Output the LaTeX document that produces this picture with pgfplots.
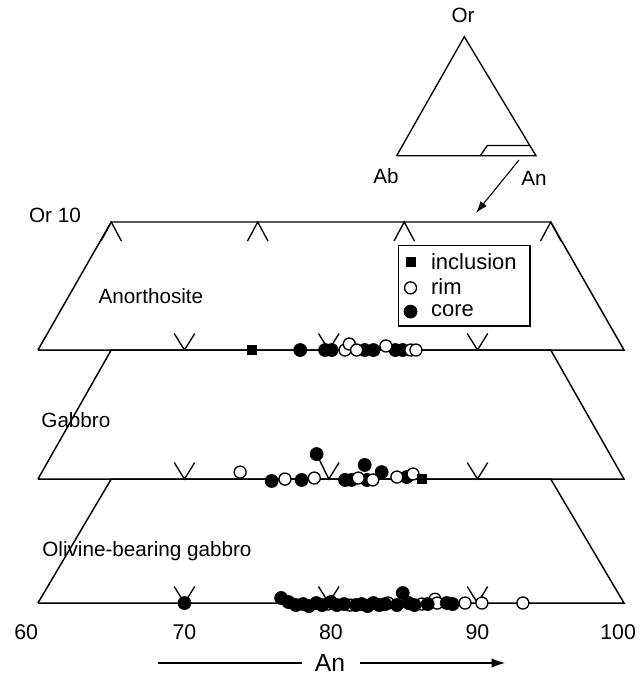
\documentclass[border=0pt]{standalone}
\usepackage{fontspec}
\setmainfont{Liberation Sans}
\usepackage{pgfplots}
\pgfplotsset{compat=1.18}
\usetikzlibrary{arrows.meta}

\begin{document}
\begin{tikzpicture}
\begin{axis}[
  x=10.9875pt, y=95.25pt,
  xmin=57.41, xmax=101.30, ymin=-0.598, ymax=4.748,
  hide axis, clip=false,
  legend style={at={(axis cs:84.57,2.819)}, anchor=north west,
    draw=black, line width=0.9pt,
    font=\fontsize{16.5}{18}\selectfont,
    row sep=1.9pt, inner xsep=2pt, inner ysep=3.6pt},
  legend cell align=left,
  legend image code/.code={%
    \path[draw=none, fill=none] (0pt,-5pt) rectangle (20.4pt,5pt);
    \draw[#1] plot coordinates {(7pt,0pt)};},
  frame/.style={black, line width=1.1pt, mark=none, forget plot},
  tk/.style={black, line width=1pt, mark=none, forget plot},
  filled/.style={only marks, mark=*, mark size=4.9pt,
    mark options={fill=black, draw=black, line width=0.5pt}},
  hollow/.style={only marks, mark=*, mark size=4.5pt,
    mark options={fill=white, draw=black, line width=1pt}},
  incl/.style={only marks, mark=square*, mark size=3.5pt,
    mark options={fill=black, draw=black, line width=0.5pt}},
]
% keep the page exactly the size of the axis area
\addplot[draw=none, mark=none, forget plot] coordinates {(57.41,-0.598) (101.30,4.748)};

% legend
\addlegendimage{incl}   \addlegendentry{inclusion\rule{6pt}{0pt}}
\addlegendimage{hollow} \addlegendentry{rim}
\addlegendimage{filled} \addlegendentry{core}

% trapezoids (An 60--100 along Ab--An, An 65--95 at Or 10)
\addplot[frame] coordinates {(60,1.992) (65,3) (95,3) (100,1.992) (60,1.992)};
\addplot[frame] coordinates {(60,0.976) (65,1.992) (95,1.992) (100,0.976) (60,0.976)};
\addplot[frame] coordinates {(60,0) (65,0.976) (95,0.976) (100,0) (60,0)};

% tie-line marks on the Or 10 edge
\addplot[tk] coordinates {(64.3,2.85) (65,3) (65.7,2.85)};
\addplot[tk] coordinates {(74.3,2.85) (75,3) (75.7,2.85)};
\addplot[tk] coordinates {(84.3,2.85) (85,3) (85.7,2.85)};
\addplot[tk] coordinates {(94.3,2.85) (95,3) (95.7,2.85)};
% marks on the base lines
\addplot[tk] coordinates {(69.3,2.122) (70,1.992) (70.7,2.122)};
\addplot[tk] coordinates {(79.15,2.122) (79.85,1.992) (80.55,2.122)};
\addplot[tk] coordinates {(89.3,2.122) (90,1.992) (90.7,2.122)};
\addplot[tk] coordinates {(69.3,1.106) (70,0.976) (70.7,1.106)};
\addplot[tk] coordinates {(79.02,1.173) (79.85,0.976) (80.55,1.106)};
\addplot[tk] coordinates {(89.3,1.106) (90,0.976) (90.7,1.106)};
\addplot[tk] coordinates {(69.3,0.13) (70,0) (70.7,0.13)};
\addplot[tk] coordinates {(79.15,0.13) (79.85,0) (80.55,0.13)};
\addplot[tk] coordinates {(89.3,0.13) (90,0) (90.7,0.13)};

% ternary Or--Ab--An sketch
\addplot[tk, line width=1pt] coordinates {(84.485,3.522) (89.10,4.459) (93.99,3.522) (84.485,3.522)};
\addplot[tk, line width=1pt] coordinates {(90.19,3.522) (90.67,3.602) (93.52,3.602)};
\draw[line width=0.8pt, -{Latex[length=9pt,width=6pt]}] (axis cs:92.83,3.488) -- (axis cs:89.90,3.071);

% Anorthosite
\addplot[incl, forget plot] coordinates {(74.6,1.992)};
\addplot[filled, forget plot] coordinates {
  (77.9,1.992) (79.6,1.992) (80.05,1.992) (82.3,1.992) (82.9,1.992)
  (84.4,1.992) (84.9,1.992)};
\addplot[hollow, forget plot] coordinates {
  (80.96,1.992) (81.25,2.039) (81.75,1.992) (83.75,2.024)
  (85.45,1.992) (85.8,1.992)};

% Gabbro
\addplot[filled, forget plot] coordinates {
  (75.95,0.961) (78.0,0.969) (79.02,1.173) (80.96,0.969) (81.4,0.969)
  (82.3,1.087) (82.45,0.969) (83.46,1.031) (85.17,0.992)};
\addplot[hollow, forget plot] coordinates {
  (73.8,1.031) (76.86,0.976) (78.86,0.984) (81.86,0.984) (82.85,0.969)
  (84.5,0.992) (85.6,1.016)};
\addplot[incl, forget plot] coordinates {(86.19,0.976)};

% Olivine-bearing gabbro
\addplot[hollow, forget plot] coordinates {
  (79.8,-0.008) (81.3,-0.016) (83.9,0) (86.2,-0.008) (87.1,0.03)
  (87.25,0) (89.15,0) (90.3,0) (93.1,0)};
\addplot[filled, forget plot] coordinates {
  (70.0,0) (76.6,0.04) (77.1,0.008) (77.6,-0.016) (78.1,-0.008)
  (78.5,-0.024) (79.0,0) (79.4,-0.016) (80.0,0.008) (80.4,-0.016)
  (80.9,-0.008) (81.7,-0.016) (82.1,-0.008) (82.5,-0.024) (82.9,0)
  (83.3,-0.016) (83.7,-0.008) (84.5,-0.016) (84.9,0.079) (85.3,0)
  (85.7,-0.016) (86.6,-0.008) (87.9,0) (88.3,-0.008)};

% labels
\begin{scope}[font=\fontsize{15.5}{18}\selectfont]
\node at (axis cs:89.01,4.63) {Or};
\node at (axis cs:83.75,3.362) {Ab};
\node at (axis cs:93.86,3.346) {An};
\node at (axis cs:61.16,3.055) {Or 10};
\node at (axis cs:67.71,2.417) {Anorthosite};
\node at (axis cs:62.59,1.441) {Gabbro};
\node at (axis cs:67.44,0.409) {Olivine-bearing gabbro};
\end{scope}
\begin{scope}[font=\fontsize{16}{19}\selectfont]
\node at (axis cs:59.2,-0.228) {60};
\node at (axis cs:70,-0.228) {70};
\node at (axis cs:80,-0.228) {80};
\node at (axis cs:90,-0.228) {90};
\node at (axis cs:99.6,-0.228) {100};
\end{scope}
\node[font=\fontsize{18.5}{21}\selectfont] at (axis cs:79.93,-0.472) {An};
\draw[line width=1pt] (axis cs:68.19,-0.472) -- (axis cs:78.02,-0.472);
\draw[line width=1pt, -{Latex[length=10pt,width=7pt]}] (axis cs:81.98,-0.472) -- (axis cs:91.88,-0.472);
\end{axis}
\end{tikzpicture}
\end{document}
